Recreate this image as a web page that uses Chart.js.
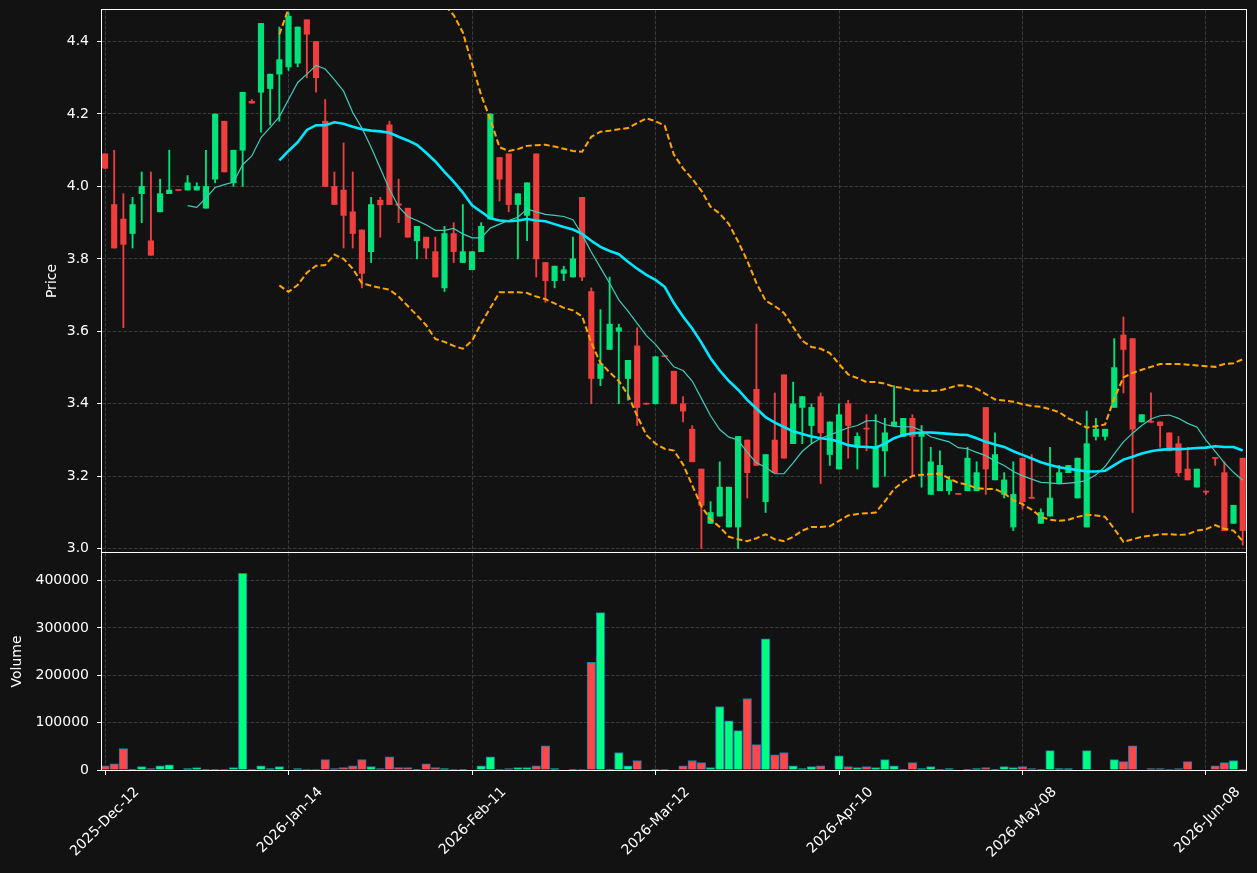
<!DOCTYPE html>
<html>
<head>
<meta charset="utf-8">
<title>Price and volume</title>
<script src="https://cdn.jsdelivr.net/npm/chart.js@4.4.1/dist/chart.umd.min.js"></script>
<style>
    html, body { margin: 0; padding: 0; background: #121212; }
    #wrap { position: relative; width: 1257px; height: 873px; background: #121212; overflow: hidden; }
    #wrap canvas { position: absolute; left: 0; }
    #priceChart { top: 0; }
    #volumeChart { top: 552px; }
</style>
</head>
<body>
<div id="wrap">
    <canvas id="priceChart" width="1257" height="553"></canvas>
    <canvas id="volumeChart" width="1257" height="321"></canvas>
</div>
<script>
// --- Data (one entry per trading day) ---
const tickLabels = ['2025-Dec-12', '2026-Jan-14', '2026-Feb-11', '2026-Mar-12', '2026-Apr-10', '2026-May-08', '2026-Jun-08'];
const tickEvery = 20;

const opens = [4.09,3.95,3.91,3.87,3.98,3.85,3.93,3.98,3.991,3.99, 3.99,3.94,4.02,4.18,4.01,4.10,4.235,4.26,4.27,4.31,
    4.33,4.34,4.46,4.40,4.18,4.00,3.99,3.93,3.88,3.82, 3.962,4.17,3.952,3.94,3.85,3.86,3.82,3.72,3.87,3.79,
    3.77,3.82,3.91,4.08,4.09,3.95,3.92,4.09,3.79,3.74, 3.76,3.75,3.97,3.71,3.47,3.55,3.60,3.47,3.56,3.401,
    3.40,3.533,3.49,3.40,3.33,3.22,3.07,3.09,3.06,3.06, 3.30,3.44,3.13,3.30,3.48,3.29,3.39,3.34,3.42,3.26,
    3.22,3.40,3.28,3.333,3.17,3.27,3.34,3.31,3.36,3.31, 3.15,3.16,3.16,3.153,3.16,3.16,3.39,3.19,3.15,3.06,
    3.25,3.142,3.07,3.09,3.18,3.21,3.14,3.06,3.31,3.31, 3.39,3.59,3.58,3.35,3.352,3.35,3.32,3.29,3.22,3.17,
    3.159,3.252,3.21,3.07,3.25];
const highs = [4.09,4.10,3.98,3.97,4.04,4.04,4.02,4.10,3.991,4.03, 4.01,4.10,4.20,4.18,4.10,4.26,4.24,4.45,4.31,4.44,
    4.48,4.44,4.46,4.40,4.24,4.04,4.12,4.04,3.88,3.97, 3.97,4.18,4.02,3.94,3.89,3.86,3.86,3.89,3.90,3.95,
    3.82,3.90,4.20,4.08,4.09,3.98,4.01,4.09,3.79,3.78, 3.78,3.86,3.97,3.72,3.66,3.75,3.62,3.52,3.61,3.401,
    3.53,3.533,3.49,3.42,3.34,3.22,3.13,3.24,3.17,3.31, 3.30,3.62,3.26,3.43,3.48,3.46,3.42,3.40,3.43,3.35,
    3.40,3.41,3.32,3.37,3.37,3.36,3.45,3.36,3.37,3.34, 3.28,3.27,3.20,3.153,3.28,3.24,3.39,3.32,3.21,3.24,
    3.25,3.26,3.11,3.28,3.23,3.23,3.25,3.38,3.36,3.33, 3.58,3.64,3.58,3.37,3.43,3.35,3.32,3.31,3.28,3.22,
    3.16,3.252,3.24,3.12,3.25];
const lows = [4.05,3.83,3.61,3.83,3.90,3.81,3.93,3.98,3.989,3.99, 3.99,3.94,4.01,4.04,4.00,4.00,4.23,4.15,4.17,4.18,
    4.32,4.33,4.30,4.26,4.00,3.95,3.83,3.83,3.72,3.79, 3.86,3.95,3.90,3.86,3.80,3.80,3.75,3.71,3.79,3.79,
    3.77,3.82,3.91,3.96,3.93,3.80,3.85,3.75,3.68,3.72, 3.74,3.75,3.74,3.40,3.45,3.55,3.40,3.41,3.34,3.399,
    3.40,3.530,3.40,3.35,3.24,3.00,3.07,3.09,3.06,3.00, 3.14,3.23,3.10,3.21,3.25,3.29,3.29,3.29,3.18,3.23,
    3.22,3.25,3.22,3.27,3.17,3.20,3.34,3.31,3.20,3.17, 3.15,3.16,3.15,3.150,3.16,3.16,3.15,3.19,3.14,3.05,
    3.11,3.139,3.07,3.09,3.18,3.21,3.14,3.06,3.30,3.30, 3.39,3.43,3.10,3.35,3.349,3.28,3.27,3.20,3.19,3.17,
    3.15,3.23,3.05,3.07,3.01];
const closes = [4.05,3.83,3.84,3.95,4.00,3.81,3.98,3.99,3.989,4.01, 4.00,4.00,4.20,4.04,4.10,4.26,4.23,4.45,4.31,4.35,
    4.47,4.44,4.42,4.30,4.00,3.95,3.92,3.87,3.76,3.95, 3.949,3.95,3.948,3.86,3.89,3.83,3.75,3.87,3.82,3.82,
    3.82,3.89,4.20,4.02,3.95,3.98,4.01,3.80,3.74,3.78, 3.77,3.80,3.75,3.47,3.51,3.62,3.61,3.52,3.39,3.399,
    3.53,3.530,3.40,3.38,3.24,3.12,3.10,3.17,3.17,3.31, 3.21,3.23,3.26,3.21,3.25,3.40,3.42,3.39,3.32,3.35,
    3.37,3.34,3.31,3.330,3.28,3.32,3.35,3.36,3.31,3.32, 3.24,3.23,3.19,3.150,3.25,3.21,3.22,3.26,3.19,3.15,
    3.13,3.139,3.10,3.14,3.21,3.23,3.25,3.29,3.33,3.33, 3.50,3.55,3.33,3.37,3.349,3.34,3.27,3.21,3.19,3.22,
    3.156,3.249,3.05,3.12,3.05];
const volumes = [9000,13000,45000,700,7000,2800,9000,11000,0,2800, 4900,700,700,500,4900,415000,500,9000,2800,7000,
    0,2800,2100,2100,22000,2800,4900,9000,22000,7000, 2800,28000,4900,4900,700,13000,4900,2800,500,500,
    0,9000,28000,700,2800,4900,4900,9000,51000,2800, 0,700,700,227000,332000,700,37000,9000,20000,0,
    300,300,0,9000,20000,15500,4900,134000,104000,83000, 151000,53500,277000,32000,37000,9000,2800,7000,9000,0,
    30000,7000,4900,7000,4900,22000,9000,700,15500,2800, 7000,700,2800,0,700,2800,4900,700,7000,4900,
    7000,2800,700,41000,2800,2800,0,41000,0,0, 22000,17600,51000,0,2800,2800,700,2800,17600,0,
    0,9000,15500,19700,700];

// moving averages and bands (first value sits at the given bar index)
const ma10Start = 9;
const ma10 = [3.947,3.942,3.968,3.997,4.005,4.012,4.060,4.084,4.135,4.163,4.192,4.240,4.287,4.310,4.334,4.324,4.295,4.263,4.204,4.161,
    4.108,4.050,3.992,3.944,3.917,3.906,3.894,3.879,3.879,3.884,3.869,3.858,3.858,3.885,3.896,3.906,3.915,3.938,3.930,3.923,
    3.920,3.917,3.908,3.867,3.819,3.776,3.733,3.687,3.656,3.622,3.588,3.564,3.533,3.502,3.492,3.463,3.415,3.367,3.329,3.308,
    3.300,3.266,3.237,3.225,3.207,3.207,3.237,3.269,3.290,3.305,3.314,3.324,3.334,3.340,3.353,3.354,3.343,3.338,3.337,3.336,
    3.326,3.309,3.302,3.295,3.279,3.276,3.266,3.257,3.242,3.230,3.213,3.201,3.192,3.183,3.182,3.179,3.181,3.183,3.189,3.204,
    3.227,3.262,3.295,3.319,3.340,3.358,3.367,3.369,3.360,3.346,3.336,3.300,3.269,3.237,3.211,3.189];
const ma20Start = 19;
const ma20 = [4.072,4.098,4.122,4.156,4.169,4.169,4.177,4.173,4.165,4.158,4.154,4.152,4.148,4.137,4.127,4.115,4.093,4.069,4.040,4.013,
    3.983,3.948,3.930,3.912,3.906,3.904,3.906,3.910,3.906,3.904,3.896,3.888,3.881,3.869,3.850,3.833,3.822,3.813,3.792,3.773,
    3.756,3.742,3.723,3.678,3.641,3.608,3.569,3.526,3.492,3.463,3.439,3.411,3.387,3.363,3.348,3.336,3.324,3.317,3.310,3.305,
    3.302,3.295,3.286,3.282,3.281,3.279,3.290,3.305,3.314,3.319,3.321,3.321,3.319,3.317,3.315,3.314,3.305,3.295,3.288,3.281,
    3.269,3.259,3.249,3.239,3.231,3.225,3.221,3.217,3.213,3.213,3.215,3.231,3.246,3.254,3.263,3.269,3.273,3.275,3.275,3.276,
    3.278,3.279,3.283,3.281,3.281,3.271];
const bandStart = 19;
const upperBand = [4.42,4.49,4.53,4.56,4.59,4.62,4.64,4.66,4.66,4.66,4.66,4.65,4.64,4.62,4.60,4.58,4.55,4.52,4.50,4.473,
    4.425,4.338,4.252,4.185,4.108,4.098,4.103,4.112,4.114,4.115,4.110,4.104,4.098,4.096,4.137,4.151,4.154,4.158,4.161,4.175,
    4.188,4.180,4.168,4.088,4.050,4.021,3.988,3.944,3.925,3.896,3.848,3.795,3.733,3.685,3.670,3.651,3.612,3.574,3.557,3.552,
    3.540,3.510,3.481,3.471,3.460,3.460,3.456,3.447,3.444,3.437,3.436,3.435,3.437,3.444,3.451,3.450,3.442,3.427,3.412,3.409,
    3.406,3.399,3.394,3.392,3.385,3.377,3.360,3.348,3.334,3.338,3.343,3.415,3.473,3.485,3.494,3.502,3.510,3.510,3.510,3.508,
    3.506,3.504,3.502,3.510,3.512,3.523];
const lowerBand = [3.727,3.709,3.728,3.762,3.781,3.783,3.812,3.800,3.773,3.733,3.726,3.720,3.715,3.696,3.670,3.644,3.617,3.579,3.571,3.560,
    3.552,3.574,3.622,3.665,3.708,3.708,3.708,3.706,3.696,3.689,3.677,3.665,3.658,3.641,3.569,3.513,3.487,3.463,3.425,3.367,
    3.314,3.290,3.276,3.271,3.233,3.175,3.117,3.081,3.060,3.033,3.026,3.021,3.029,3.040,3.026,3.021,3.033,3.050,3.060,3.060,
    3.062,3.077,3.092,3.096,3.098,3.100,3.131,3.165,3.185,3.201,3.204,3.206,3.208,3.194,3.182,3.177,3.167,3.165,3.165,3.153,
    3.134,3.123,3.108,3.088,3.080,3.077,3.080,3.088,3.094,3.092,3.088,3.055,3.019,3.026,3.033,3.036,3.040,3.040,3.038,3.040,
    3.050,3.054,3.065,3.055,3.050,3.021];

const priceTicks = [3.0, 3.2, 3.4, 3.6, 3.8, 4.0, 4.2, 4.4];
const volumeTicks = [0, 100000, 200000, 300000, 400000];

// --- Styling ---
const UP = '#00e27a';
const DOWN = '#ee3e3e';
const VOL_UP = '#00ff80';
const VOL_DOWN = '#ff4747';
const VOL_EDGE = '#1f77b4';
const GRID = '#3a3a3a';
const TEXT = '#ffffff';
const FONT = { family: "'DejaVu Sans', sans-serif", size: 14 };
const X_MIN = -0.33;
const X_MAX = 124.36;

Chart.defaults.animation = false;
Chart.defaults.color = TEXT;

const idx = closes.map((_, i) => i);
const isUp = idx.map(i => closes[i] >= opens[i]);
const xTicks = tickLabels.map((_, k) => k * tickEvery);

const toPoints = (arr, start) => arr.map((v, k) => ({ x: start + k, y: v }));

// white box around each panel
const framePlugin = {
    id: 'frame',
    afterDraw(chart) {
        const { ctx, chartArea: a } = chart;
        ctx.save();
        ctx.strokeStyle = '#ffffff';
        ctx.lineWidth = 1;
        ctx.strokeRect(a.left - 0.5, a.top - 0.5, a.right - a.left + 1, a.bottom - a.top + 1);
        ctx.restore();
    }
};

const xAxisBase = {
    type: 'linear',
    min: X_MIN,
    max: X_MAX,
    offset: false,
    afterBuildTicks: axis => { axis.ticks = xTicks.map(v => ({ value: v })); }
};

// --- Price panel ---
new Chart(document.getElementById('priceChart'), {
    type: 'bar',
    data: {
        datasets: [
            {
                label: 'MA10',
                type: 'line',
                data: toPoints(ma10, ma10Start),
                borderColor: '#40cbbb',
                borderWidth: 1.2,
                pointRadius: 0,
                tension: 0,
                order: 0
            },
            {
                label: 'MA20',
                type: 'line',
                data: toPoints(ma20, ma20Start),
                borderColor: '#00e8ff',
                borderWidth: 2.6,
                pointRadius: 0,
                tension: 0,
                order: 0
            },
            {
                label: 'Upper band',
                type: 'line',
                data: toPoints(upperBand, bandStart),
                borderColor: '#ffa500',
                borderWidth: 2,
                borderDash: [6, 3],
                pointRadius: 0,
                tension: 0,
                order: 0
            },
            {
                label: 'Lower band',
                type: 'line',
                data: toPoints(lowerBand, bandStart),
                borderColor: '#ffa500',
                borderWidth: 2,
                borderDash: [6, 3],
                pointRadius: 0,
                tension: 0,
                order: 0
            },
            {
                label: 'Body',
                data: idx.map(i => ({ x: i, y: [opens[i], closes[i]] })),
                backgroundColor: idx.map(i => isUp[i] ? UP : DOWN),
                borderWidth: 0,
                barThickness: 5.5,
                minBarLength: 1,
                grouped: false,
                order: 1
            },
            {
                label: 'Wick',
                data: idx.map(i => ({ x: i, y: [lows[i], highs[i]] })),
                backgroundColor: idx.map(i => isUp[i] ? UP : DOWN),
                borderWidth: 0,
                barThickness: 1.2,
                minBarLength: 1,
                grouped: false,
                order: 2
            }
        ]
    },
    options: {
        responsive: false,
        devicePixelRatio: 1,
        events: [],
        layout: { padding: { top: 10, right: 11, bottom: 1, left: 0 } },
        plugins: { legend: { display: false }, tooltip: { enabled: false } },
        scales: {
            x: Object.assign({}, xAxisBase, {
                grid: { color: GRID, drawTicks: false, offset: false },
                border: { display: false, dash: [3.7, 1.6] },
                ticks: { display: false },
                afterFit: axis => { axis.height = 0; axis.paddingLeft = 0; axis.paddingRight = 0; }
            }),
            y: {
                type: 'linear',
                min: 2.991,
                max: 4.487,
                grid: { color: GRID, tickColor: '#ffffff', tickLength: 5, tickWidth: 1, tickBorderDash: [] },
                border: { display: false, dash: [3.7, 1.6] },
                ticks: { color: TEXT, font: FONT, padding: 8, callback: v => v.toFixed(1) },
                title: { display: true, text: 'Price', color: TEXT, font: FONT, padding: { top: 43.5, bottom: 0 } },
                afterBuildTicks: axis => { axis.ticks = priceTicks.map(v => ({ value: v })); },
                afterFit: axis => { axis.width = 102; axis.paddingTop = 0; axis.paddingBottom = 0; }
            }
        }
    },
    plugins: [framePlugin]
});

// --- Volume panel ---
new Chart(document.getElementById('volumeChart'), {
    type: 'bar',
    data: {
        datasets: [{
            label: 'Volume',
            data: idx.map(i => ({ x: i, y: volumes[i] })),
            backgroundColor: idx.map(i => isUp[i] ? VOL_UP : VOL_DOWN),
            borderColor: VOL_EDGE,
            borderWidth: 1,
            barThickness: 8.5,
            grouped: false
        }]
    },
    options: {
        responsive: false,
        devicePixelRatio: 1,
        events: [],
        layout: { padding: { top: 1, right: 11, bottom: 0, left: 0 } },
        plugins: { legend: { display: false }, tooltip: { enabled: false } },
        scales: {
            x: Object.assign({}, xAxisBase, {
                grid: { color: GRID, tickColor: '#ffffff', tickLength: 5, tickWidth: 1, tickBorderDash: [], offset: false },
                border: { display: false, dash: [3.7, 1.6] },
                ticks: {
                    color: TEXT,
                    font: FONT,
                    autoSkip: false,
                    minRotation: 45,
                    maxRotation: 45,
                    padding: 9,
                    labelOffset: 32,
                    callback: v => tickLabels[Math.round(v / tickEvery)]
                },
                afterFit: axis => { axis.height = 103; axis.paddingLeft = 0; axis.paddingRight = 0; }
            }),
            y: {
                type: 'linear',
                min: 0,
                max: 458000,
                grid: { color: GRID, tickColor: '#ffffff', tickLength: 5, tickWidth: 1, tickBorderDash: [] },
                border: { display: false, dash: [3.7, 1.6] },
                ticks: { color: TEXT, font: FONT, padding: 8, callback: v => String(v) },
                title: { display: true, text: 'Volume', color: TEXT, font: FONT, padding: { top: 8.6, bottom: 0 } },
                afterBuildTicks: axis => { axis.ticks = volumeTicks.map(v => ({ value: v })); },
                afterFit: axis => { axis.width = 102; axis.paddingTop = 0; axis.paddingBottom = 0; }
            }
        }
    },
    plugins: [framePlugin]
});
</script>
</body>
</html>
